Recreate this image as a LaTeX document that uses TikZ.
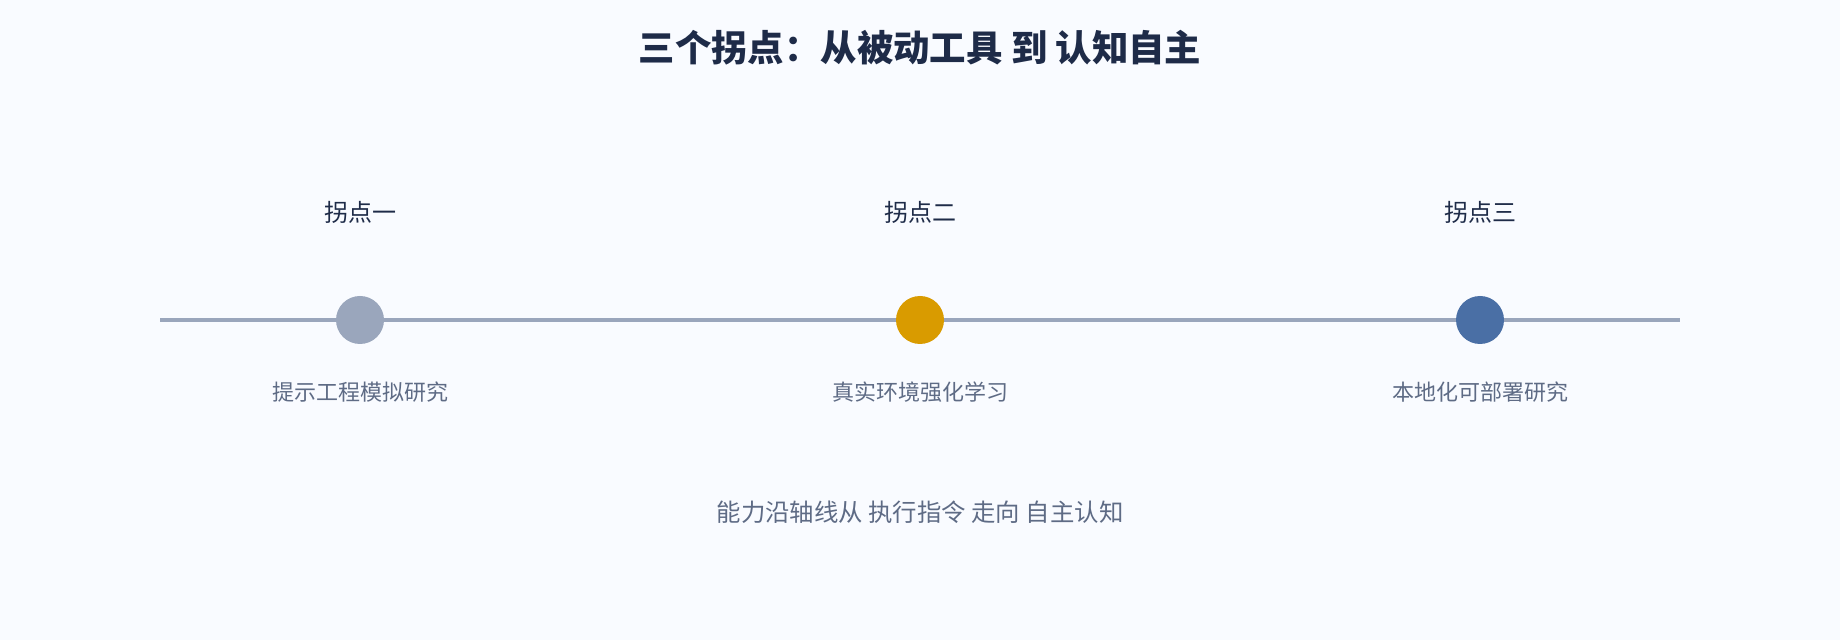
\documentclass[tikz,border=0pt]{standalone}
\usepackage{fontspec}
\usepackage{tikz}
\setmainfont{Noto Sans CJK SC}
\definecolor{bgcol}{HTML}{F9FBFF}
\definecolor{titlecol}{HTML}{1E2B48}
\definecolor{axiscol}{HTML}{9AA6BC}
\definecolor{subcol}{HTML}{5E6B85}
\definecolor{goldcol}{HTML}{D99B00}
\definecolor{bluecol}{HTML}{4A6FA5}
\tikzset{
  dot/.style={circle, minimum size=24pt, inner sep=0pt},
  toplabel/.style={font=\fontsize{12}{14}\selectfont, text=titlecol},
  sublabel/.style={font=\fontsize{11}{14}\selectfont, text=subcol}
}

\begin{document}
\begin{tikzpicture}[x=0.5pt, y=-0.5pt]
        \fill [bgcol] (0, 0) rectangle (1840, 640);
        \useasboundingbox (0, 0) rectangle (1840, 640);
        \node (title) at (920, 48) [font=\bfseries\fontsize{18.2}{20}\selectfont, text=titlecol] {三个拐点：从被动工具 到 认知自主};
        \coordinate (axisL) at (160, 320);
        \coordinate (axisR) at (1680, 320);
        \draw [axiscol, line width=2pt] (axisL) -- (axisR);
        \node (p1) at (360, 320) [dot, fill=axiscol] {};
        \node (p2) at (920, 320) [dot, fill=goldcol] {};
        \node (p3) at (1480, 320) [dot, fill=bluecol] {};
        \node (t1) at (360, 212) [toplabel] {拐点一};
        \node (t2) at (920, 212) [toplabel] {拐点二};
        \node (t3) at (1480, 212) [toplabel] {拐点三};
        \node (s1) at (360, 392) [sublabel] {提示工程模拟研究};
        \node (s2) at (920, 392) [sublabel] {真实环境强化学习};
        \node (s3) at (1480, 392) [sublabel] {本地化可部署研究};
        \node (caption) at (920, 512) [font=\fontsize{12.2}{15}\selectfont, text=subcol] {能力沿轴线从 执行指令 走向 自主认知};
    \end{tikzpicture}
\end{document}
